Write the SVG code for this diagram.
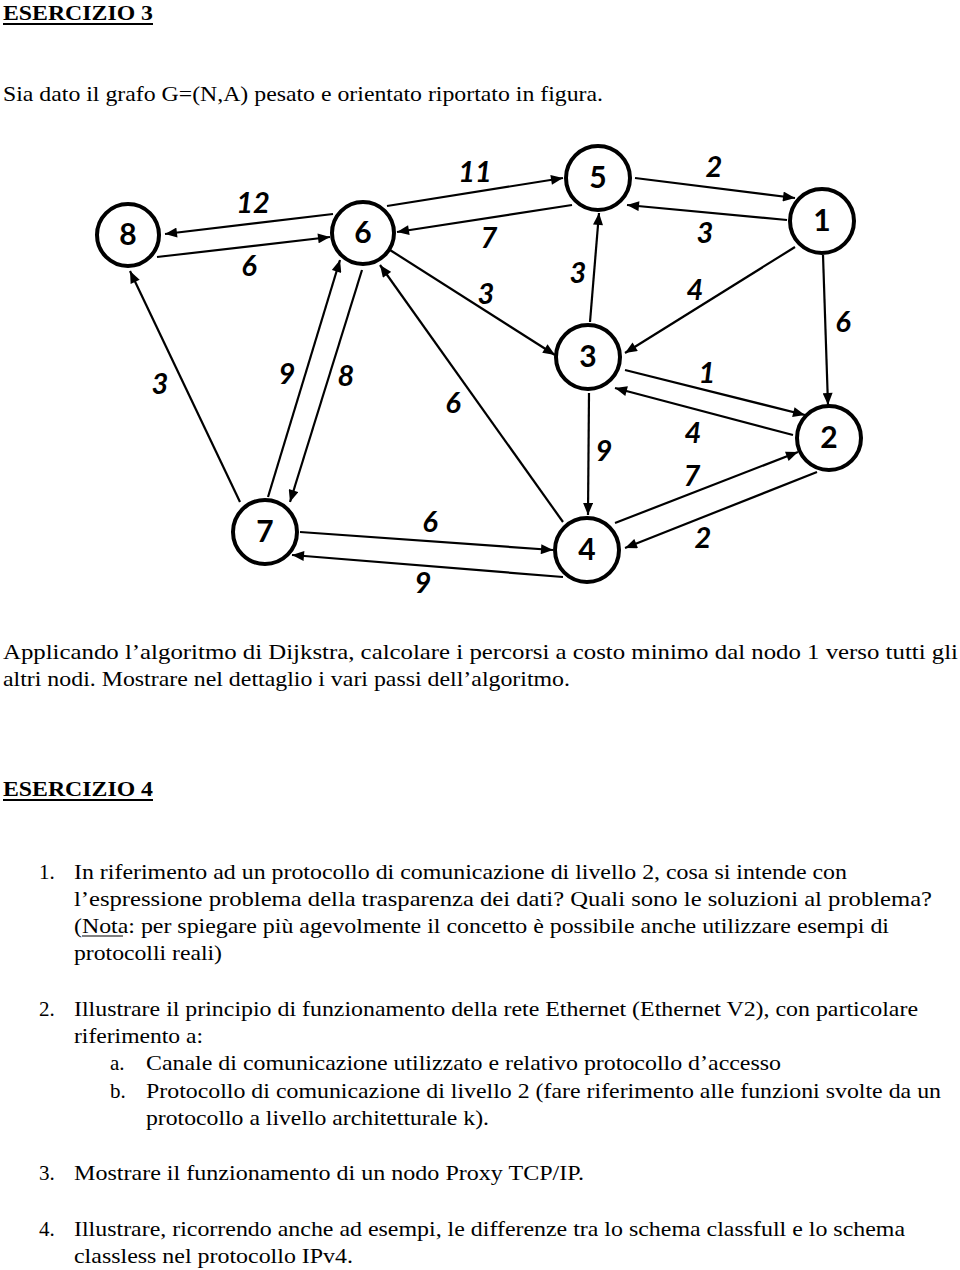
<svg xmlns="http://www.w3.org/2000/svg" width="960" height="1270" viewBox="0 0 960 1270">
<style>
.t{font-family:"Liberation Serif","Times New Roman",serif;font-size:21px;fill:#000}
.h{font-family:"Liberation Serif","Times New Roman",serif;font-size:22px;font-weight:bold;fill:#000}
.node circle{fill:#fff;stroke:#000;stroke-width:4}
.node text{font-family:Lato,"Liberation Sans",sans-serif;font-size:30px;font-weight:bold;fill:#000;text-anchor:middle}
.edges line{stroke:#000;stroke-width:2.2;marker-end:url(#ah)}
.lbl{font-family:Lato,"Liberation Sans",sans-serif;font-size:29px;font-weight:bold;font-style:italic;fill:#000;text-anchor:middle}
</style>
<defs>
<marker id="ah" viewBox="0 0 12 10" refX="12" refY="5" markerWidth="13" markerHeight="10" orient="auto" markerUnits="userSpaceOnUse">
<path d="M0,0 L12,5 L0,10 z" fill="#000"/>
</marker>
</defs>
<rect width="960" height="1270" fill="#fff"/>

<text class="h" x="3" y="20" textLength="150" lengthAdjust="spacingAndGlyphs">ESERCIZIO 3</text>
<line x1="3" y1="24" x2="153" y2="24" stroke="#000" stroke-width="2"/>
<text class="t" x="3" y="101" textLength="600" lengthAdjust="spacingAndGlyphs">Sia dato il grafo G=(N,A) pesato e orientato riportato in figura.</text>

<g class="edges">
<line x1="333" y1="214" x2="165" y2="234"/>
<line x1="157" y1="257" x2="330" y2="237"/>
<line x1="387" y1="206" x2="563" y2="178"/>
<line x1="572" y1="205" x2="397" y2="232"/>
<line x1="390" y1="250" x2="555" y2="355"/>
<line x1="563" y1="522" x2="380" y2="265"/>
<line x1="590" y1="322" x2="599" y2="213"/>
<line x1="635" y1="178" x2="795" y2="198"/>
<line x1="787" y1="220" x2="627" y2="205"/>
<line x1="795" y1="247" x2="625" y2="353"/>
<line x1="823" y1="255" x2="828" y2="405"/>
<line x1="625" y1="370" x2="805" y2="415"/>
<line x1="793" y1="435" x2="615" y2="388"/>
<line x1="589" y1="393" x2="588" y2="515"/>
<line x1="615" y1="523" x2="798" y2="452"/>
<line x1="817" y1="472" x2="625" y2="548"/>
<line x1="300" y1="532" x2="553" y2="550"/>
<line x1="563" y1="577" x2="292" y2="555"/>
<line x1="240" y1="502" x2="130" y2="271"/>
<line x1="362" y1="270" x2="290" y2="502"/>
<line x1="268" y1="497" x2="340" y2="260"/>
</g>

<g id="edge-labels">
<text class="lbl" x="253" y="213">12</text>
<text class="lbl" x="249" y="276">6</text>
<text class="lbl" x="475" y="182">11</text>
<text class="lbl" x="489" y="248">7</text>
<text class="lbl" x="486" y="304">3</text>
<text class="lbl" x="578" y="283">3</text>
<text class="lbl" x="714" y="177">2</text>
<text class="lbl" x="705" y="243">3</text>
<text class="lbl" x="695" y="300">4</text>
<text class="lbl" x="843" y="332">6</text>
<text class="lbl" x="707" y="383">1</text>
<text class="lbl" x="693" y="443">4</text>
<text class="lbl" x="604" y="461">9</text>
<text class="lbl" x="692" y="486">7</text>
<text class="lbl" x="703" y="548">2</text>
<text class="lbl" x="160" y="394">3</text>
<text class="lbl" x="287" y="384">9</text>
<text class="lbl" x="346" y="386">8</text>
<text class="lbl" x="453" y="413">6</text>
<text class="lbl" x="430" y="532">6</text>
<text class="lbl" x="423" y="593">9</text>
</g>

<g id="n8" class="node"><circle cx="128" cy="235" r="31"/><text x="128" y="245">8</text></g>
<g id="n6" class="node"><circle cx="363" cy="233" r="31"/><text x="363" y="243">6</text></g>
<g id="n5" class="node"><circle cx="598" cy="178" r="32"/><text x="598" y="188">5</text></g>
<g id="n1" class="node"><circle cx="822" cy="221" r="32"/><text x="822" y="231">1</text></g>
<g id="n3" class="node"><circle cx="588" cy="357" r="32"/><text x="588" y="367">3</text></g>
<g id="n2" class="node"><circle cx="829" cy="438" r="32"/><text x="829" y="448">2</text></g>
<g id="n4" class="node"><circle cx="587" cy="550" r="32"/><text x="587" y="560">4</text></g>
<g id="n7" class="node"><circle cx="265" cy="532" r="32"/><text x="265" y="542">7</text></g>

<text class="t" x="3" y="659" textLength="955" lengthAdjust="spacingAndGlyphs">Applicando l’algoritmo di Dijkstra, calcolare i percorsi a costo minimo dal nodo 1 verso tutti gli</text>
<text class="t" x="3" y="686" textLength="567" lengthAdjust="spacingAndGlyphs">altri nodi. Mostrare nel dettaglio i vari passi dell’algoritmo.</text>

<text class="h" x="3" y="796" textLength="150" lengthAdjust="spacingAndGlyphs">ESERCIZIO 4</text>
<line x1="3" y1="800" x2="153" y2="800" stroke="#000" stroke-width="2"/>

<text class="t" x="39" y="879">1.</text>
<text class="t" x="74" y="879" textLength="773" lengthAdjust="spacingAndGlyphs">In riferimento ad un protocollo di comunicazione di livello 2, cosa si intende con</text>
<text class="t" x="74" y="906" textLength="858" lengthAdjust="spacingAndGlyphs">l’espressione problema della trasparenza dei dati? Quali sono le soluzioni al problema?</text>
<text class="t" x="74" y="933" textLength="815" lengthAdjust="spacingAndGlyphs">(Nota: per spiegare più agevolmente il concetto è possibile anche utilizzare esempi di</text>
<line x1="82" y1="936" x2="123" y2="936" stroke="#000" stroke-width="1.2"/>
<text class="t" x="74" y="960" textLength="148" lengthAdjust="spacingAndGlyphs">protocolli reali)</text>

<text class="t" x="39" y="1016">2.</text>
<text class="t" x="74" y="1016" textLength="844" lengthAdjust="spacingAndGlyphs">Illustrare il principio di funzionamento della rete Ethernet (Ethernet V2), con particolare</text>
<text class="t" x="74" y="1043" textLength="129" lengthAdjust="spacingAndGlyphs">riferimento a:</text>
<text class="t" x="110" y="1070">a.</text>
<text class="t" x="146" y="1070" textLength="635" lengthAdjust="spacingAndGlyphs">Canale di comunicazione utilizzato e relativo protocollo d’accesso</text>
<text class="t" x="110" y="1098">b.</text>
<text class="t" x="146" y="1098" textLength="795" lengthAdjust="spacingAndGlyphs">Protocollo di comunicazione di livello 2 (fare riferimento alle funzioni svolte da un</text>
<text class="t" x="146" y="1125" textLength="343" lengthAdjust="spacingAndGlyphs">protocollo a livello architetturale k).</text>

<text class="t" x="39" y="1180">3.</text>
<text class="t" x="74" y="1180" textLength="510" lengthAdjust="spacingAndGlyphs">Mostrare il funzionamento di un nodo Proxy TCP/IP.</text>

<text class="t" x="39" y="1236">4.</text>
<text class="t" x="74" y="1236" textLength="831" lengthAdjust="spacingAndGlyphs">Illustrare, ricorrendo anche ad esempi, le differenze tra lo schema classfull e lo schema</text>
<text class="t" x="74" y="1263" textLength="279" lengthAdjust="spacingAndGlyphs">classless nel protocollo IPv4.</text>
</svg>
